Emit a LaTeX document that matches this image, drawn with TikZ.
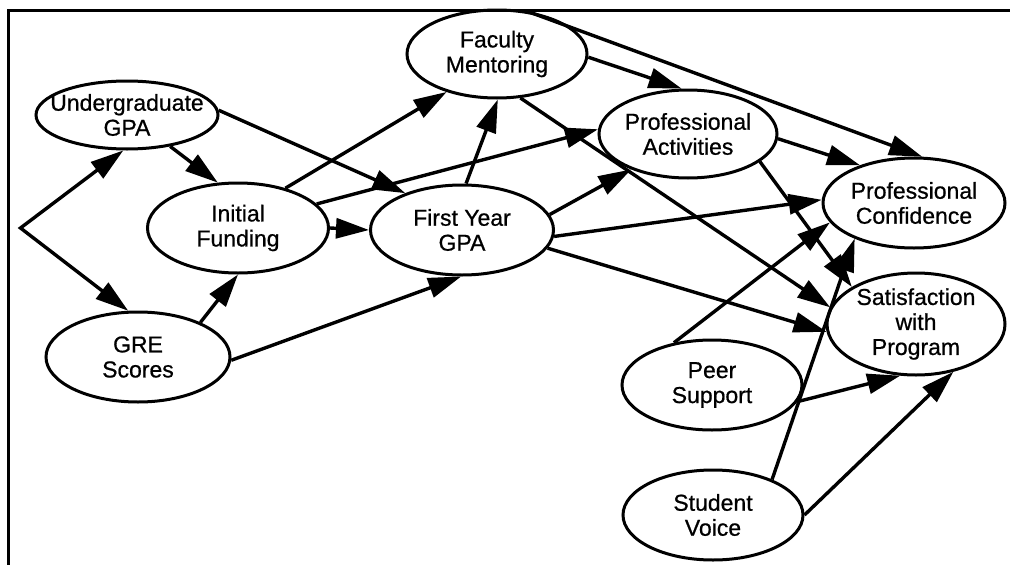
\documentclass[tikz,border=0pt]{standalone}
\usepackage{fontspec}
\setmainfont{Liberation Sans}
\newfontfamily\heavyfont{Liberation Sans}[FakeBold=0.7]
\usetikzlibrary{shapes.geometric,arrows.meta}
\tikzset{
  var/.style={draw, ellipse, line width=3pt, inner sep=0pt},
  vtext/.style={align=center, inner sep=0pt, font=\heavyfont\fontsize{23}{25}\selectfont},
  arr/.style={draw, line width=3.4pt, -{Triangle[length=33pt,width=20pt]}},
  dblarr/.style={draw, line width=3.4pt, line join=miter, {Triangle[length=33pt,width=20pt]}-{Triangle[length=33pt,width=20pt]}},
}
\begin{document}
\begin{tikzpicture}[x=1pt,y=-1pt]
\useasboundingbox (0,0) rectangle (1010,565);
\draw[line width=3pt] (8,566) -- (8,10) -- (1011,10);

\node[var, minimum width=182pt, minimum height=68pt, label={[vtext]center:Undergraduate\\GPA}] (UG) at (127,115) {};
\node[var, minimum width=181pt, minimum height=90pt, label={[vtext]center:Initial\\Funding}] (IF) at (238,228) {};
\node[var, minimum width=184pt, minimum height=90pt, label={[vtext]center:GRE\\Scores}] (GRE) at (138,357) {};
\node[var, minimum width=183pt, minimum height=90pt, label={[vtext]center:First Year\\GPA}] (FYG) at (462,230) {};
\node[var, minimum width=180pt, minimum height=88pt, label={[vtext]center:Faculty\\Mentoring}] (FM) at (497,54) {};
\node[var, minimum width=178pt, minimum height=88pt, label={[vtext]center:Professional\\Activities}] (PA) at (688,134) {};
\node[var, minimum width=182pt, minimum height=90pt, label={[vtext]center:Professional\\Confidence}] (PC) at (914,203) {};
\node[var, minimum width=178pt, minimum height=102pt, label={[vtext]center:Satisfaction\\with\\Program}] (SAT) at (916,324) {};
\node[var, minimum width=180pt, minimum height=90pt, label={[vtext]center:Peer\\Support}] (PS) at (712,385) {};
\node[var, minimum width=180pt, minimum height=90pt, label={[vtext]center:Student\\Voice}] (SV) at (713,515) {};

\coordinate (br) at (20.5,228);
\draw[dblarr] (UG.264) -- (br) -- (GRE.102);

\draw[arr] (UG.-36) -- (IF.114);
\draw[arr] (UG.3) -- (FYG.147);
\draw[arr] (GRE.29) -- (IF.270);
\draw[arr] (GRE.-2) -- (FYG.269);
\draw[arr] (IF.40) -- (FM.217);
\draw[arr] (IF.0) -- (FYG.180);
\draw[arr] (FYG.85) -- (FM.271);
\draw[arr] (IF.17) -- (PA.177);
\draw[arr] (FYG.10) -- (PA.212);
\draw[arr] (FYG.-4) -- (PC.178);
\draw[arr] (FYG.-12) -- (SAT.185);
\draw[arr] (PA.-3) -- (PC.145);
\draw[arr] (PA.-21) -- (SAT.150);
\draw[arr] (FM.-62) -- (SAT.169);
\draw[arr] (FM.56) -- (PC.80);
\draw[arr] (FM.-2) -- (PA.98);
\draw[arr] (PS.132) -- (PC.193);
\draw[arr] (PS.-11) -- (SAT.253);
\draw[arr] (SV.31) -- (PC.211);
\draw[arr] (SV.0) -- (SAT.308);
\end{tikzpicture}
\end{document}
